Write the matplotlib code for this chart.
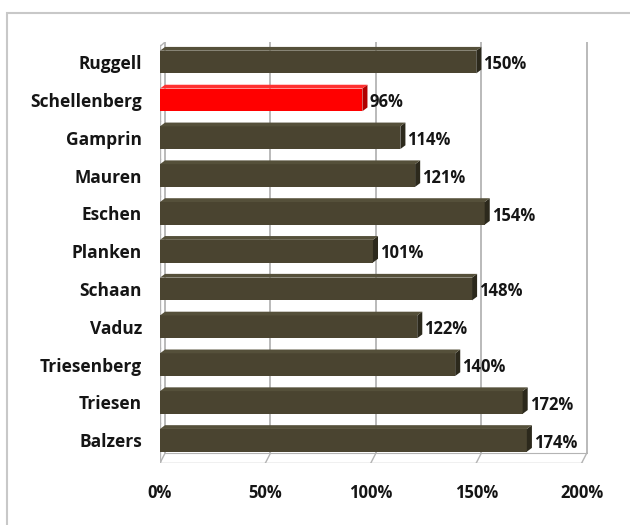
import matplotlib
matplotlib.use("Agg")
import matplotlib.pyplot as plt
from matplotlib.patches import Polygon, Rectangle

categories = ["Ruggell", "Schellenberg", "Gamprin", "Mauren", "Eschen", "Planken",
              "Schaan", "Vaduz", "Triesenberg", "Triesen", "Balzers"]
values = [150, 96, 114, 121, 154, 101, 148, 122, 140, 172, 174]
highlight = "Schellenberg"
xticks = [0, 50, 100, 150, 200]
xtick_labels = ["0%", "50%", "100%", "150%", "200%"]

plt.rcParams['font.family'] = ['Open Sans', 'DejaVu Sans']
W = "bold"

fig = plt.figure(figsize=(6.3, 5.25), dpi=100)
fig.patch.set_facecolor("white")
# outer chart border
fig.add_artist(Rectangle((7/630, -0.05), 1.2, 1 - 13/525 + 0.05, transform=fig.transFigure,
                         fill=False, edgecolor="#c8c8c8", lw=1.5))

ax = fig.add_axes([160/630, 1 - 463/525, 428/630, (463 - 42)/525])
n = len(categories)
ypos = [n - 1 - i for i in range(n)]
h = 0.6
dx, dy = 2.4, 0.1
floor_back = -0.34
floor_front = -0.6
top = 10.53

grid_c = "#b4b4b4"
# back wall gridlines + floor slants
for t in xticks:
    ax.plot([t + dx, t + dx], [floor_back, top], color=grid_c, lw=1.3, zorder=1)
    ax.plot([t, t + dx], [floor_front, floor_back], color=grid_c, lw=1.0, zorder=1)
    ax.plot([t, t], [floor_front, floor_front - 0.12], color=grid_c, lw=1.0, zorder=1)
# floor front & back lines
ax.plot([0, xticks[-1]], [floor_front, floor_front], color=grid_c, lw=1.0, zorder=1)
ax.plot([dx, xticks[-1] + dx], [floor_back, floor_back], color=grid_c, lw=0.8, zorder=1)
# left wall
ax.plot([0, 0], [floor_front, top - 0.12], color=grid_c, lw=1.0, zorder=1)
ax.plot([0, dx], [top - 0.12, top], color=grid_c, lw=1.0, zorder=1)
for k in range(n + 1):
    yb = -0.5 + k
    ax.plot([-2.5, 0], [yb - 0.05, yb - 0.05], color=grid_c, lw=1.0, zorder=1)

for cat, v, y in zip(categories, values, ypos):
    if cat == highlight:
        front, side, topc = "#ff0000", "#b00000", "#ff3030"
    else:
        front, side, topc = "#4a4430", "#2c291c", "#55503a"
    ax.barh(y, v, height=h, left=0, color=front, edgecolor="none", zorder=3)
    ax.add_patch(Polygon([(v, y - h/2), (v, y + h/2), (v + dx, y + h/2 + dy), (v + dx, y - h/2 + dy)],
                         closed=True, facecolor=side, edgecolor="none", zorder=3))
    ax.add_patch(Polygon([(0, y + h/2), (v, y + h/2), (v + dx, y + h/2 + dy), (dx, y + h/2 + dy)],
                         closed=True, facecolor=topc, edgecolor="none", zorder=3))
    ax.text(v + dx + 1.0, y - 0.06, f"{v}%", va="center", ha="left", fontsize=12,
            fontweight=W, color="#151515", zorder=4)

ax.set_xlim(0, 203)
ax.set_ylim(floor_front, top)
ax.set_xticks(xticks)
ax.set_xticklabels(xtick_labels, fontsize=12, fontweight=W, color="#151515")
ax.set_yticks(ypos)
ax.set_yticklabels(categories, fontsize=12.5, fontweight=W, color="#151515")
ax.tick_params(axis="x", length=0, pad=15)
ax.tick_params(axis="y", length=0, pad=13)
for s in ax.spines.values():
    s.set_visible(False)

fig.savefig("out.png", dpi=100, facecolor="white")
